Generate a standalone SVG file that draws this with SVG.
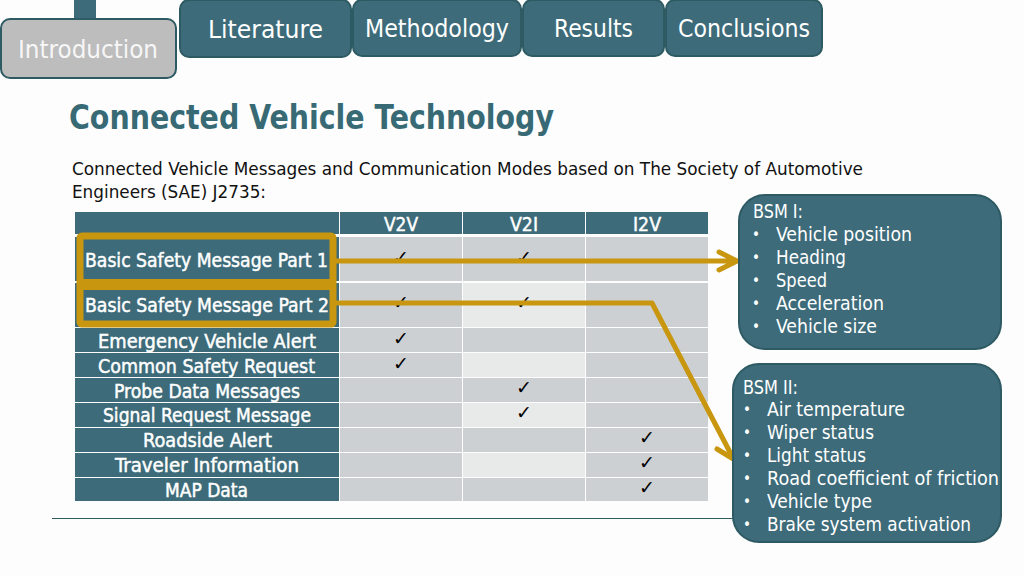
<svg xmlns="http://www.w3.org/2000/svg" width="1024" height="576" viewBox="0 0 1024 576">
<defs>
<style>
text{font-family:"DejaVu Sans Condensed","DejaVu Sans",sans-serif;font-stretch:condensed}
.tab{fill:#3d6b79;stroke:#2d5a63;stroke-width:2}
.tt{fill:#fff;font-size:24px}
.hd{fill:#3d6b79}
.c{fill:#cdd0d2}
.l{fill:#e8e9e9}
.rl{fill:#fff;stroke:#fff;stroke-width:.45px;font-size:19px}
.ck{fill:#000;font-size:19px;font-family:"DejaVu Sans",sans-serif;font-stretch:normal;text-anchor:middle}
.box{fill:#3d6b79;stroke:#2d5a63;stroke-width:2}
.bt{fill:#fff;font-size:19.500px}
.bu{font-size:15px}
.gold{fill:none;stroke:#c8960f;stroke-width:5;stroke-linecap:round;stroke-linejoin:round}
</style>
</defs>
<rect width="1024" height="576" fill="#fcfdfc"/>
<g id="nav-stub"><rect x="74" y="-2" width="22" height="22" fill="#3d6b79"/></g>
<g id="nav-introduction"><rect x="1" y="19" width="175" height="59" rx="9" fill="#bdbdbd" stroke="#2d5a63" stroke-width="2"/><text class="tt" x="18" y="58" textLength="140" lengthAdjust="spacingAndGlyphs" fill-opacity=".9">Introduction</text></g>
<g id="nav-literature"><rect class="tab" x="180" y="0" width="171" height="57" rx="9"/><text class="tt" x="208" y="38" textLength="115" lengthAdjust="spacingAndGlyphs">Literature</text></g>
<g id="nav-methodology"><rect class="tab" x="353" y="0" width="168" height="56" rx="9"/><text class="tt" x="365" y="37" textLength="144" lengthAdjust="spacingAndGlyphs">Methodology</text></g>
<g id="nav-results"><rect class="tab" x="523" y="0" width="141" height="56" rx="9"/><text class="tt" x="554" y="37" textLength="79" lengthAdjust="spacingAndGlyphs">Results</text></g>
<g id="nav-conclusions"><rect class="tab" x="666" y="0" width="156" height="56" rx="9"/><text class="tt" x="678" y="37" textLength="132" lengthAdjust="spacingAndGlyphs">Conclusions</text></g>
<text x="69" y="129" fill="#386a75" font-size="33" font-weight="700" textLength="485" lengthAdjust="spacingAndGlyphs">Connected Vehicle Technology</text>
<text x="72" y="175" fill="#111" font-size="18.500" textLength="791" lengthAdjust="spacingAndGlyphs">Connected Vehicle Messages and Communication Modes based on The Society of Automotive</text>
<text x="72" y="198" fill="#111" font-size="18.500" textLength="194" lengthAdjust="spacingAndGlyphs">Engineers (SAE) J2735:</text>
<g id="table">
<rect class="hd" x="75" y="212" width="264" height="22"/><rect class="hd" x="340" y="212" width="122" height="22"/><rect class="hd" x="463" y="212" width="122" height="22"/><rect class="hd" x="586" y="212" width="122" height="22"/>
<g class="rl"><text x="384" y="231" textLength="34" lengthAdjust="spacingAndGlyphs">V2V</text><text x="510" y="231" textLength="28" lengthAdjust="spacingAndGlyphs">V2I</text><text x="633" y="231" textLength="28" lengthAdjust="spacingAndGlyphs">I2V</text></g>
<rect class="hd" x="75" y="237" width="264" height="44"/><rect class="hd" x="75" y="283" width="264" height="44"/>
<rect class="hd" x="75" y="328" width="264" height="24"/><rect class="hd" x="75" y="353" width="264" height="24"/><rect class="hd" x="75" y="378" width="264" height="24"/><rect class="hd" x="75" y="403" width="264" height="24"/><rect class="hd" x="75" y="428" width="264" height="24"/><rect class="hd" x="75" y="453" width="264" height="24"/><rect class="hd" x="75" y="478" width="264" height="23"/>
<g class="c">
<rect x="340" y="237" width="368" height="44"/><rect x="340" y="283" width="368" height="44"/><rect x="340" y="328" width="368" height="24"/><rect x="340" y="353" width="368" height="24"/><rect x="340" y="378" width="368" height="24"/><rect x="340" y="403" width="368" height="24"/><rect x="340" y="428" width="368" height="24"/><rect x="340" y="453" width="368" height="24"/><rect x="340" y="478" width="368" height="23"/>
</g>
<g class="l"><rect x="463" y="283" width="122" height="44"/><rect x="463" y="353" width="122" height="24"/><rect x="463" y="403" width="122" height="24"/><rect x="463" y="453" width="122" height="24"/></g>
<rect x="462" y="237" width="1" height="264" fill="#fff"/><rect x="585" y="237" width="1" height="264" fill="#fff"/>
<text class="rl" x="85" y="267" textLength="243" lengthAdjust="spacingAndGlyphs">Basic Safety Message Part 1</text>
<text class="rl" x="85" y="312" textLength="244" lengthAdjust="spacingAndGlyphs">Basic Safety Message Part 2</text>
<text class="rl" x="98" y="348" textLength="218" lengthAdjust="spacingAndGlyphs">Emergency Vehicle Alert</text>
<text class="rl" x="98" y="373" textLength="217" lengthAdjust="spacingAndGlyphs">Common Safety Request</text>
<text class="rl" x="114" y="398" textLength="186" lengthAdjust="spacingAndGlyphs">Probe Data Messages</text>
<text class="rl" x="103" y="422" textLength="208" lengthAdjust="spacingAndGlyphs">Signal Request Message</text>
<text class="rl" x="143" y="447" textLength="129" lengthAdjust="spacingAndGlyphs">Roadside Alert</text>
<text class="rl" x="115" y="472" textLength="184" lengthAdjust="spacingAndGlyphs">Traveler Information</text>
<text class="rl" x="165" y="497" textLength="83" lengthAdjust="spacingAndGlyphs">MAP Data</text>
<text class="ck" x="401" y="264">✓</text><text class="ck" x="524" y="264">✓</text>
<text class="ck" x="401" y="309">✓</text><text class="ck" x="524" y="309">✓</text>
<text class="ck" x="401" y="345">✓</text><text class="ck" x="401" y="370">✓</text>
<text class="ck" x="524" y="394">✓</text><text class="ck" x="524" y="419">✓</text>
<text class="ck" x="647" y="444">✓</text><text class="ck" x="647" y="469">✓</text><text class="ck" x="647" y="494">✓</text>
</g>
<line x1="52" y1="518.500" x2="740" y2="518.500" stroke="#2d5a63" stroke-width="1.200"/>
<g id="connectors">
<rect x="80" y="236" width="253" height="88" rx="2" fill="none" stroke="#c8960f" stroke-width="7" stroke-linejoin="round"/>
<rect x="80" y="279" width="253" height="11" fill="#c8960f"/>
<path class="gold" d="M333 261H736M719 252L737 261L719 270"/>
<path class="gold" d="M333 303H652L733 458M717 449L735 460L736 441"/>
</g>
<g id="bsm-1"><rect class="box" x="739" y="195" width="262" height="154" rx="26"/>
<g class="bt"><text x="753" y="218" textLength="50" lengthAdjust="spacingAndGlyphs">BSM I:</text><text class="bu" x="752" y="240">•</text><text x="776" y="241" textLength="136" lengthAdjust="spacingAndGlyphs">Vehicle position</text><text class="bu" x="752" y="263">•</text><text x="776" y="264" textLength="70" lengthAdjust="spacingAndGlyphs">Heading</text><text class="bu" x="752" y="286">•</text><text x="776" y="287" textLength="51" lengthAdjust="spacingAndGlyphs">Speed</text><text class="bu" x="752" y="309">•</text><text x="776" y="310" textLength="108" lengthAdjust="spacingAndGlyphs">Acceleration</text><text class="bu" x="752" y="332">•</text><text x="776" y="333" textLength="101" lengthAdjust="spacingAndGlyphs">Vehicle size</text></g></g>
<g id="bsm-2"><rect class="box" x="733" y="364" width="268" height="178" rx="26"/>
<g class="bt"><text x="743" y="394" textLength="55" lengthAdjust="spacingAndGlyphs">BSM II:</text><text class="bu" x="743" y="415">•</text><text x="767" y="416" textLength="138" lengthAdjust="spacingAndGlyphs">Air temperature</text><text class="bu" x="743" y="438">•</text><text x="767" y="439" textLength="107" lengthAdjust="spacingAndGlyphs">Wiper status</text><text class="bu" x="743" y="461">•</text><text x="767" y="462" textLength="99" lengthAdjust="spacingAndGlyphs">Light status</text><text class="bu" x="743" y="484">•</text><text x="767" y="485" textLength="232" lengthAdjust="spacingAndGlyphs">Road coefficient of friction</text><text class="bu" x="743" y="507">•</text><text x="767" y="508" textLength="105" lengthAdjust="spacingAndGlyphs">Vehicle type</text><text class="bu" x="743" y="530">•</text><text x="767" y="531" textLength="204" lengthAdjust="spacingAndGlyphs">Brake system activation</text></g></g>
</svg>
